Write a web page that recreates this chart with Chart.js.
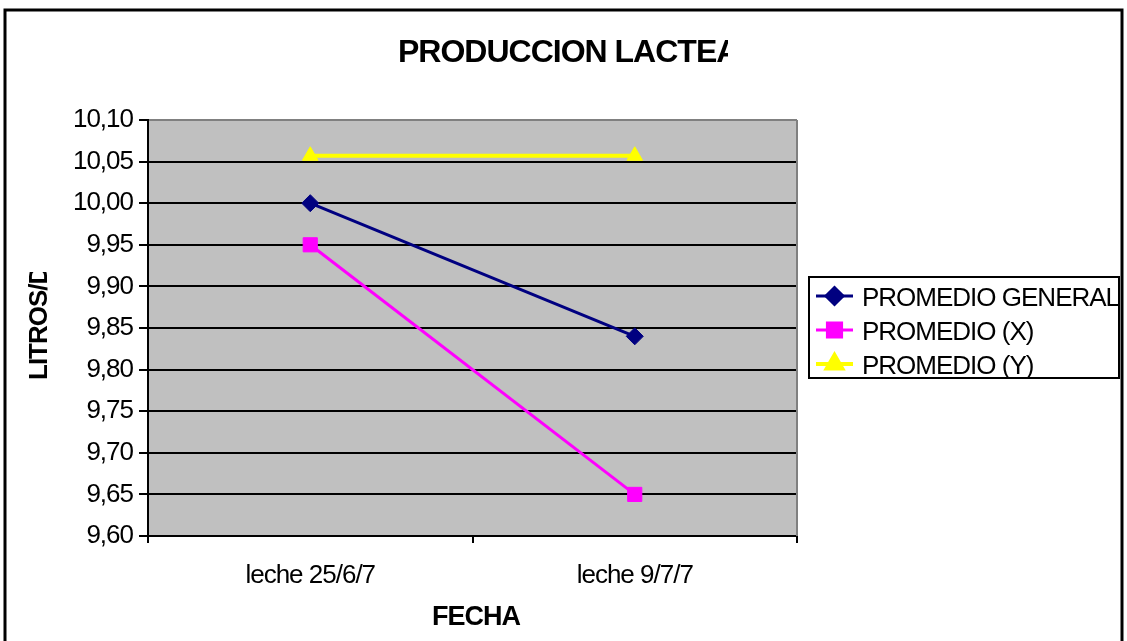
<!DOCTYPE html>
<html>
<head>
<meta charset="utf-8">
<script src="https://cdn.jsdelivr.net/npm/chart.js@4/dist/chart.umd.min.js"></script>
<style>
html,body{margin:0;padding:0;background:#fff;overflow:hidden;}
canvas{display:block;}
</style>
</head>
<body>
<canvas id="c" width="1127" height="641"></canvas>
<script>
// ---- data ----
const chartTitle = 'PRODUCCION LACTEA';
const xAxisTitle = 'FECHA';
const yAxisTitle = 'LITROS/D';
const categories = ['leche 25/6/7', 'leche 9/7/7'];
const seriesNames = ['PROMEDIO GENERAL', 'PROMEDIO (X)', 'PROMEDIO (Y)'];
const promedioGeneral = [10.00, 9.84];
const promedioX = [9.95, 9.65];
const promedioY = [10.057, 10.057];
const yMin = 9.60, yMax = 10.10, yStep = 0.05;

const FONT = '"Liberation Sans", Arial, sans-serif';
const AREA = {left: 148, top: 120, right: 797, bottom: 536};
const W = 1127, H = 641;

const deco = {
  id: 'deco',
  beforeDraw(chart) {
    const {ctx, chartArea: a} = chart;
    ctx.save();
    ctx.fillStyle = '#fff';
    ctx.fillRect(0, 0, chart.width, chart.height);
    ctx.fillStyle = '#C0C0C0';
    ctx.fillRect(a.left, a.top, a.right - a.left, a.bottom - a.top);
    ctx.restore();
    ctx.letterSpacing = '-1px';
  },
  afterDraw(chart) {
    const {ctx, chartArea: a} = chart;
    ctx.save();
    ctx.letterSpacing = '-1px';
    // right plot border (gray)
    ctx.strokeStyle = '#808080';
    ctx.lineWidth = 2;
    ctx.beginPath();
    ctx.moveTo(a.right, a.top);
    ctx.lineTo(a.right, a.bottom);
    ctx.stroke();

    // outer frame
    ctx.strokeStyle = '#000';
    ctx.lineWidth = 3;
    ctx.strokeRect(5, 10, 1117, 700);

    ctx.fillStyle = '#000';
    // title (clipped)
    ctx.save();
    ctx.beginPath(); ctx.rect(0, 0, 728, H); ctx.clip();
    ctx.font = 'bold 32px ' + FONT;
    ctx.textAlign = 'left';
    ctx.textBaseline = 'alphabetic';
    ctx.fillText(chartTitle, 398, 62);
    ctx.restore();

    // x axis title
    ctx.font = 'bold 27px ' + FONT;
    ctx.textAlign = 'center';
    ctx.textBaseline = 'alphabetic';
    ctx.fillText(xAxisTitle, 476, 625);

    // y axis title (rotated, clipped)
    ctx.save();
    ctx.beginPath(); ctx.rect(0, 272, 140, 200); ctx.clip();
    ctx.translate(47, 380);
    ctx.rotate(-Math.PI / 2);
    ctx.font = 'bold 26px ' + FONT;
    ctx.textAlign = 'left';
    ctx.textBaseline = 'alphabetic';
    ctx.fillText(yAxisTitle, 0, 0);
    ctx.restore();

    // legend box
    const lx = 809, ly = 277, lw = 310, lh = 101;
    ctx.strokeStyle = '#000';
    ctx.lineWidth = 2;
    ctx.strokeRect(lx, ly, lw, lh);
    const rows = [296, 330, 364];
    ctx.save();
    ctx.beginPath(); ctx.rect(0, 0, W, ly + lh - 1); ctx.clip();
    chart.data.datasets.forEach((ds, i) => {
      const cy = rows[i];
      ctx.strokeStyle = ds.borderColor;
      ctx.lineWidth = ds.borderWidth;
      ctx.beginPath();
      ctx.moveTo(816, cy);
      ctx.lineTo(853, cy);
      ctx.stroke();
      Chart.helpers.drawPoint(ctx, {
        pointStyle: ds.pointStyle, radius: ds.pointRadius, rotation: 0, borderWidth: 1
      }, 834.5, cy);
      ctx.fillStyle = ds.pointBackgroundColor;
      ctx.strokeStyle = ds.pointBorderColor;
      ctx.fill();
      ctx.fillStyle = '#000';
      ctx.font = '26px ' + FONT;
      ctx.textAlign = 'left';
      ctx.textBaseline = 'alphabetic';
      ctx.fillText(ds.label, 862, cy + 10);
    });
    ctx.restore();
    ctx.restore();
  }
};

function mkDs(label, data, color, style, radius, width) {
  return {
    label, data,
    borderColor: color, backgroundColor: color,
    pointBackgroundColor: color, pointBorderColor: color,
    pointStyle: style, pointRadius: radius, pointHoverRadius: radius,
    borderWidth: width, pointBorderWidth: 1, tension: 0
  };
}

new Chart(document.getElementById('c'), {
  type: 'line',
  data: {
    labels: categories,
    datasets: [
      mkDs(seriesNames[0], promedioGeneral, '#000080', 'rectRot', 8.5, 3),
      mkDs(seriesNames[1], promedioX, '#FF00FF', 'rect', 10, 3),
      mkDs(seriesNames[2], promedioY, '#FFFF00', 'triangle', 9, 4)
    ]
  },
  options: {
    responsive: false,
    animation: false,
    events: [],
    layout: {padding: {top: AREA.top, right: W - AREA.right, left: 0, bottom: 0}},
    plugins: {legend: {display: false}, title: {display: false}, tooltip: {enabled: false}},
    scales: {
      x: {
        type: 'category',
        offset: true,
        grid: {display: true, drawOnChartArea: false, drawTicks: true, tickLength: 7, color: '#000', lineWidth: 2, offset: true},
        border: {display: true, color: '#000', width: 2},
        ticks: {color: '#000', font: {family: FONT, size: 26}, padding: 17, maxRotation: 0},
        afterFit(s) { s.height = H - AREA.bottom; }
      },
      y: {
        min: yMin, max: yMax,
        grid: {
          color: (c) => (Math.abs(c.tick.value - yMax) < 1e-6 ? '#808080' : '#000'),
          tickColor: '#000', lineWidth: 2, tickLength: 9, drawTicks: true
        },
        border: {display: true, color: '#000', width: 2},
        ticks: {
          stepSize: yStep, color: '#000', font: {family: FONT, size: 26}, padding: 6,
          callback: (v) => Number(v).toFixed(2).replace('.', ',')
        },
        afterFit(s) { s.width = AREA.left; }
      }
    }
  },
  plugins: [deco]
});
</script>
</body>
</html>
